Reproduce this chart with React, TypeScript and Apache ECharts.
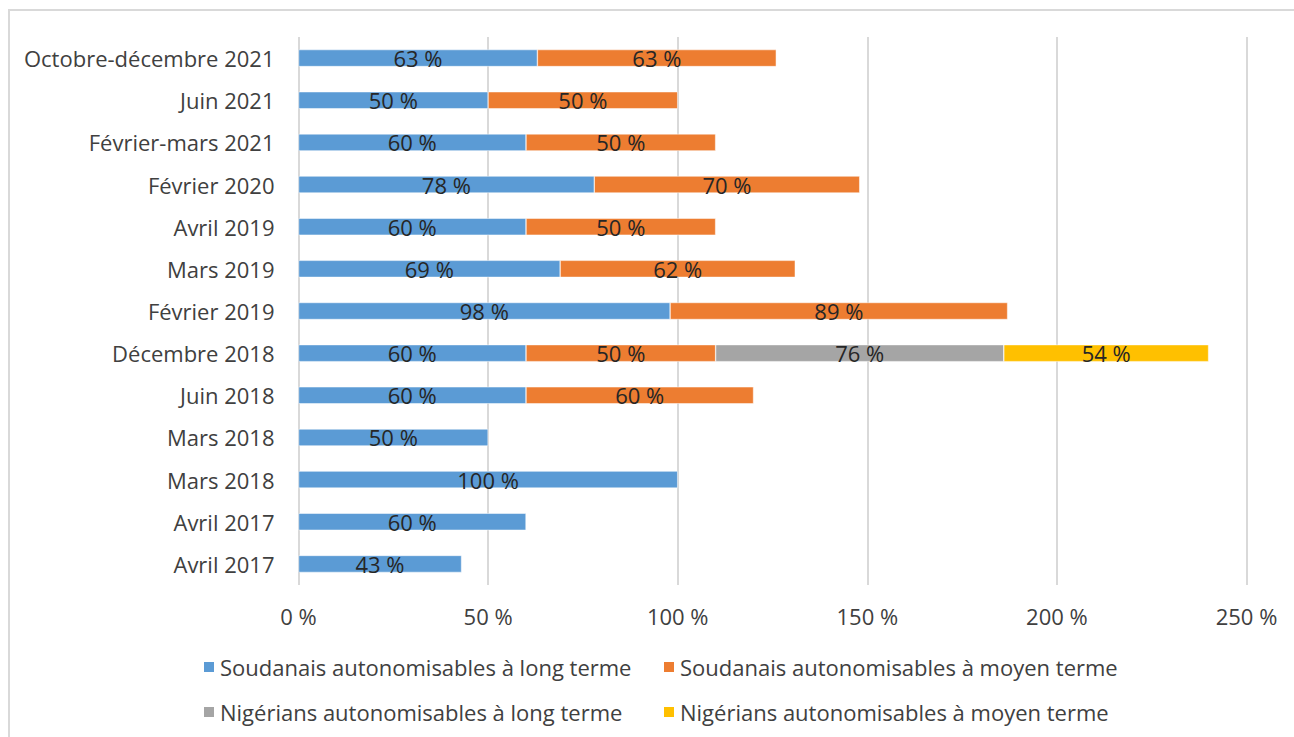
import React, { useEffect, useRef } from "react";
import * as echarts from "echarts";

// Survey rounds, listed bottom to top as they appear on the axis
const periods = [
  "Avril 2017",
  "Avril 2017",
  "Mars 2018",
  "Mars 2018",
  "Juin 2018",
  "Décembre 2018",
  "Février 2019",
  "Mars 2019",
  "Avril 2019",
  "Février 2020",
  "Février-mars 2021",
  "Juin 2021",
  "Octobre-décembre 2021",
];

const soudanaisLong = [43, 60, 100, 50, 60, 60, 98, 69, 60, 78, 60, 50, 63];
const soudanaisMoyen = [null, null, null, null, 60, 50, 89, 62, 50, 70, 50, 50, 63];
const nigeriansLong = [null, null, null, null, null, 76, null, null, null, null, null, null, null];
const nigeriansMoyen = [null, null, null, null, null, 54, null, null, null, null, null, null, null];

const seriesNames = [
  "Soudanais autonomisables à long terme",
  "Soudanais autonomisables à moyen terme",
  "Nigérians autonomisables à long terme",
  "Nigérians autonomisables à moyen terme",
];
const seriesColors = ["#5B9BD5", "#ED7D31", "#A5A5A5", "#FFC000"];
const xTicks = [0, 50, 100, 150, 200, 250];

const FONT = "'Open Sans', 'Noto Sans', sans-serif";
const TEXT = "#404040";
const FS = 22;

export default function App() {
  const ref = useRef<HTMLDivElement>(null);

  useEffect(() => {
    if (!ref.current) return;
    const chart = echarts.init(ref.current, undefined, { renderer: "svg" });
    const values = [soudanaisLong, soudanaisMoyen, nigeriansLong, nigeriansMoyen];

    const legendStyle = {
      orient: "vertical" as const,
      top: 651,
      itemWidth: 12,
      itemHeight: 12,
      itemGap: 23,
      icon: "rect",
      textStyle: { fontFamily: FONT, fontSize: FS, color: TEXT },
    };

    chart.setOption({
      animation: false,
      textStyle: { fontFamily: FONT },
      graphic: [
        {
          type: "rect",
          shape: { x: 9, y: 10, width: 1300, height: 740 },
          style: { fill: "none", stroke: "#D9D9D9", lineWidth: 2 },
          silent: true,
          z: -1,
        },
      ],
      legend: [
        { ...legendStyle, left: 197, data: [seriesNames[0], seriesNames[2]] },
        { ...legendStyle, left: 657, data: [seriesNames[1], seriesNames[3]] },
      ],
      grid: { left: 298.5, right: 47.5, top: 37, bottom: 152 },
      xAxis: {
        type: "value",
        min: xTicks[0],
        max: xTicks[xTicks.length - 1],
        interval: 50,
        axisLine: { show: false },
        axisTick: { show: false },
        splitLine: { lineStyle: { color: "#D9D9D9", width: 2 } },
        axisLabel: {
          fontFamily: FONT,
          fontSize: FS,
          color: TEXT,
          margin: 20,
          formatter: (v: number) => `${v} %`,
        },
      },
      yAxis: {
        type: "category",
        data: periods.map((_, i) => String(i)),
        axisLine: { show: false },
        axisTick: { show: false },
        axisLabel: {
          fontFamily: FONT,
          fontSize: FS,
          color: TEXT,
          margin: 24,
          formatter: (v: string) => periods[Number(v)],
        },
      },
      series: seriesNames.map((name, i) => ({
        name,
        type: "bar",
        stack: "total",
        barWidth: 17,
        itemStyle: { color: seriesColors[i], borderColor: "#fff", borderWidth: 0.5 },
        label: {
          show: true,
          position: "inside",
          fontFamily: FONT,
          fontSize: FS,
          color: "#262626",
          offset: [0, 0],
          formatter: (p: any) => `${p.value} %`,
        },
        data: values[i],
      })),
    });

    return () => chart.dispose();
  }, []);

  return (
    <div
      ref={ref}
      style={{ position: "fixed", left: 0, top: 0, width: 1294, height: 737, background: "#fff" }}
    />
  );
}
